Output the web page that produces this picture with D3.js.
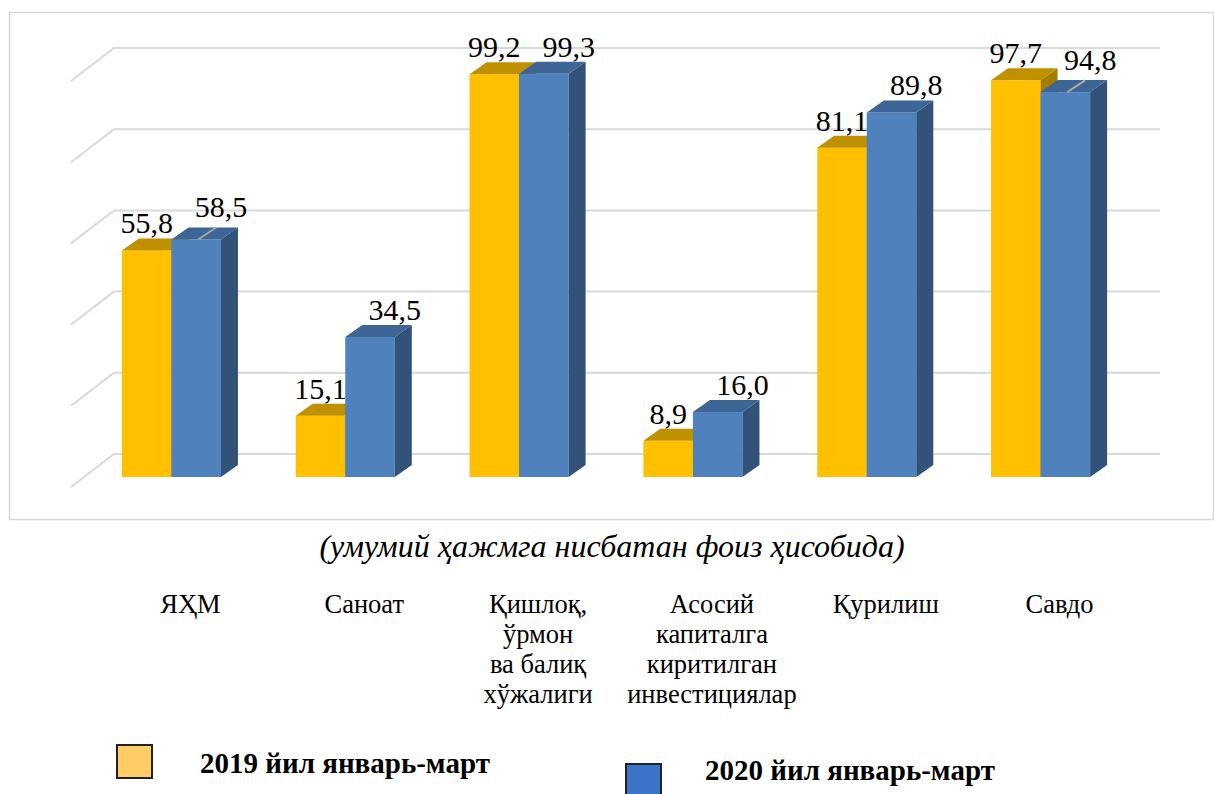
<!DOCTYPE html>
<html>
<head>
<meta charset="utf-8">
<script src="https://cdn.jsdelivr.net/npm/d3@7"></script>
<style>
  body { margin: 0; background: #fff; }
</style>
</head>
<body>
<div id="container"></div>
<script>
const width = 1214;
const height = 794;

const categories = ["ЯҲМ", "Саноат", "Қишлоқ,\nўрмон\nва балиқ\nхўжалиги",
    "Асосий\nкапиталга\nкиритилган\nинвестициялар", "Қурилиш", "Савдо"];
const values2019 = [55.8, 15.1, 99.2, 8.9, 81.1, 97.7];
const values2020 = [58.5, 34.5, 99.3, 16.0, 89.8, 94.8];
const seriesNames = ["2019 йил январь-март", "2020 йил январь-март"];
const gridTicks = [0, 20, 40, 60, 80, 100];
// labels that Excel pushed up with a leader line
const leaderCats = [0, 5];

const depth = { dx: 17, dy: -12 };
const wall = { dx: -43, dy: 33 };

const colors = [
    { front: "#FFC000", top: "#BF9000", side: "#A67D00" },
    { front: "#4F81BD", top: "#3D6696", side: "#32527A" }
];

const svg = d3.select("#container")
    .append("svg")
    .attr("width", width)
    .attr("height", height)
    .attr("viewBox", [0, 0, width, height])
    .attr("font-family", "'Liberation Serif', 'Times New Roman', serif");

// chart frame
svg.append("rect")
    .attr("x", 9.5).attr("y", 12.5)
    .attr("width", 1204).attr("height", 507)
    .attr("fill", "none")
    .attr("stroke", "#D9D9D9")
    .attr("stroke-width", 1.5);

const x = d3.scaleBand()
    .domain(d3.range(categories.length))
    .range([84.5, 1127.5]);

const yFront = d3.scaleLinear().domain([0, 100]).range([477, 71]);
const yBack = d3.scaleLinear().domain([0, 100]).range([454, 48]);

const barW = x.bandwidth() * 0.285;
const groupOffset = (x.bandwidth() - 2 * barW) / 2;

// back wall + side wall grid lines
const grid = svg.append("g")
    .attr("stroke", "#D9D9D9")
    .attr("stroke-width", 2)
    .attr("fill", "none");

grid.selectAll("path")
    .data(gridTicks)
    .join("path")
    .attr("d", d => `M${114 + wall.dx},${yBack(d) + wall.dy} L114,${yBack(d)} L1160,${yBack(d)}`);

function drawBar(g, x0, v, c) {
    const w = barW;
    const y0 = yFront(0);
    const y1 = yFront(v);
    g.append("rect")
        .attr("x", x0).attr("y", y1)
        .attr("width", w).attr("height", y0 - y1)
        .attr("fill", c.front);
    g.append("path")
        .attr("d", `M${x0},${y1} L${x0 + depth.dx},${y1 + depth.dy} L${x0 + w + depth.dx},${y1 + depth.dy} L${x0 + w},${y1} Z`)
        .attr("fill", c.top);
    g.append("path")
        .attr("d", `M${x0 + w},${y1} L${x0 + w + depth.dx},${y1 + depth.dy} L${x0 + w + depth.dx},${y0 + depth.dy} L${x0 + w},${y0} Z`)
        .attr("fill", c.side);
}

const bars = svg.append("g");
categories.forEach((cat, i) => {
    const g = bars.append("g");
    const left = x(i) + groupOffset;
    drawBar(g, left, values2019[i], colors[0]);
    drawBar(g, left + barW, values2020[i], colors[1]);
});

const fmt = v => d3.format(".1f")(v).replace(".", ",");

// value labels
const labels = svg.append("g").attr("font-size", 30);
categories.forEach((cat, i) => {
    const left = x(i) + groupOffset;
    labels.append("text")
        .attr("x", left + barW / 2)
        .attr("y", yFront(values2019[i]) - 17)
        .attr("text-anchor", "middle")
        .text(fmt(values2019[i]));

    const lifted = leaderCats.includes(i);
    const cx = left + barW * 1.5;
    const top = yFront(values2020[i]);
    labels.append("text")
        .attr("x", cx + barW / 2)
        .attr("y", top - (lifted ? 22 : 17))
        .attr("text-anchor", "middle")
        .text(fmt(values2020[i]));
    if (lifted) {
        svg.append("line")
            .attr("x1", cx + 2).attr("y1", top)
            .attr("x2", cx + 20).attr("y2", top - 12)
            .attr("stroke", "#A6A6A6")
            .attr("stroke-width", 2);
    }
});

// subtitle
svg.append("text")
    .attr("x", 612).attr("y", 557)
    .attr("text-anchor", "middle")
    .attr("font-size", 32)
    .attr("font-style", "italic")
    .text("(умумий ҳажмга нисбатан фоиз ҳисобида)");

// category labels
const catG = svg.append("g").attr("font-size", 26.5).attr("text-anchor", "middle");
categories.forEach((cat, i) => {
    const cxl = x(i) + x.bandwidth() / 2 + 19;
    const t = catG.append("text")
        .attr("x", cxl)
        .attr("y", 613);
    cat.split("\n").forEach((line, j) => {
        t.append("tspan")
            .attr("x", cxl)
            .attr("dy", j === 0 ? 0 : 30)
            .text(line);
    });
});

// legend
const legendFill = ["#FFCC66", "#3A73C8"];
const legendPos = [{ x: 117, y: 745, tx: 200, ty: 773 }, { x: 626, y: 764, tx: 705, ty: 780 }];
const legend = svg.append("g");
seriesNames.forEach((name, i) => {
    const p = legendPos[i];
    legend.append("rect")
        .attr("x", p.x).attr("y", p.y)
        .attr("width", 35).attr("height", 33)
        .attr("fill", legendFill[i])
        .attr("stroke", "#222")
        .attr("stroke-width", 2);
    legend.append("text")
        .attr("x", p.tx).attr("y", p.ty)
        .attr("font-size", 29)
        .attr("font-weight", "bold")
        .text(name);
});
</script>
</body>
</html>
